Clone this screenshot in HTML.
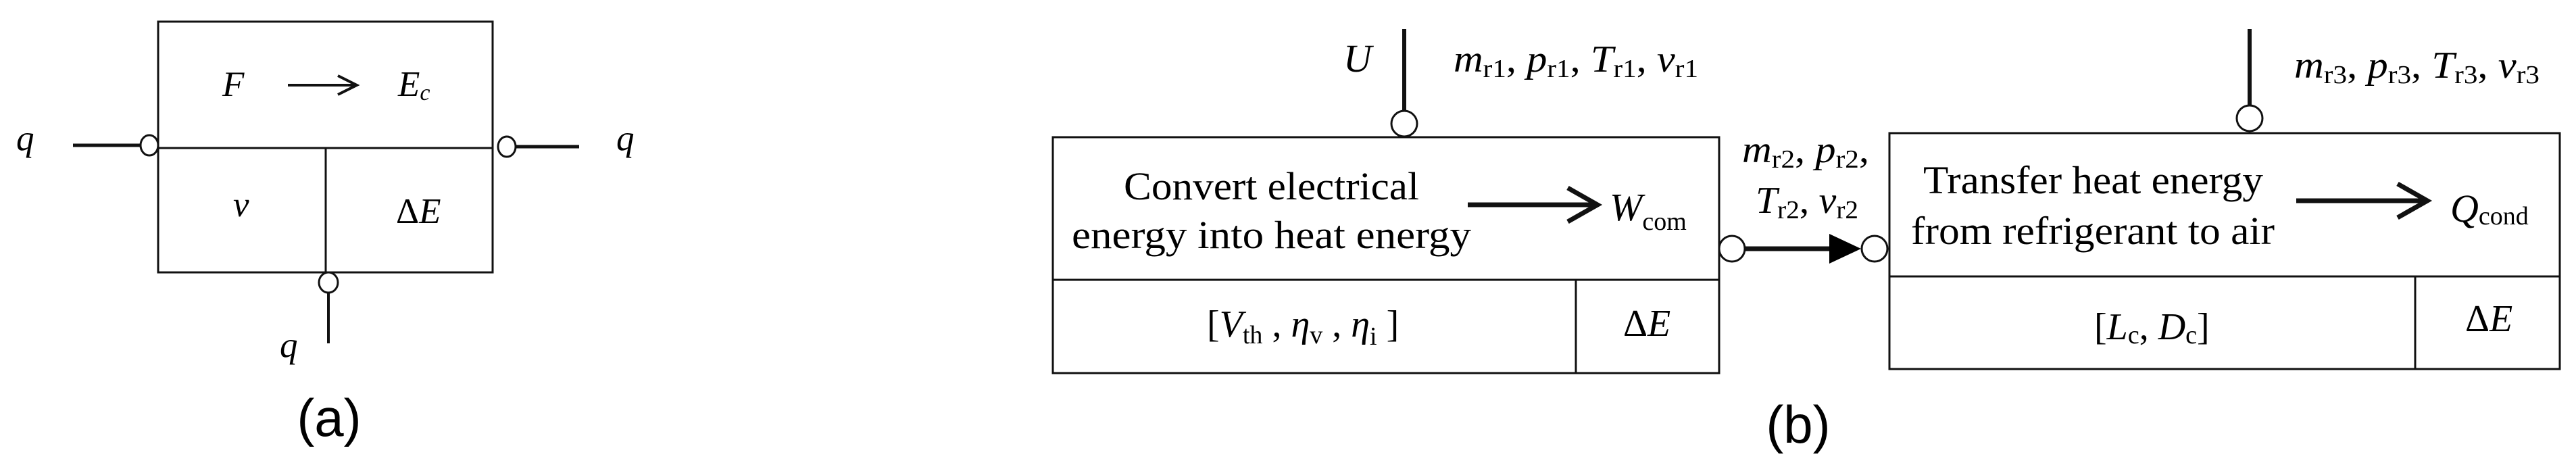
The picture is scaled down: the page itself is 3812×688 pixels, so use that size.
<!DOCTYPE html>
<html><head><meta charset="utf-8"><style>
html,body{margin:0;padding:0;background:#fff;}
svg{display:block;}
text{font-family:"Liberation Serif",serif;fill:#000;}
.i{font-style:italic;}
</style></head><body>
<svg width="3812" height="688" viewBox="0 0 3812 688" xmlns="http://www.w3.org/2000/svg">
<g fill="none" stroke="#111" stroke-width="3">
<rect x="234" y="32" width="495" height="371"/>
<line x1="234" y1="219" x2="729" y2="219"/>
<line x1="482" y1="219" x2="482" y2="403"/>
<line x1="108" y1="215" x2="207" y2="215" stroke-width="5"/>
<ellipse cx="221" cy="215" rx="13" ry="15" fill="#fff"/>
<line x1="763" y1="217" x2="857" y2="217" stroke-width="5"/>
<ellipse cx="750" cy="217" rx="13" ry="15" fill="#fff"/>
<line x1="486" y1="432" x2="486" y2="508" stroke-width="4"/>
<ellipse cx="486" cy="418" rx="14" ry="15" fill="#fff"/>
<line x1="426" y1="126" x2="527" y2="126" stroke-width="4"/>
<polyline points="500,112 528,126 500,140" stroke-width="4"/>
<rect x="1558" y="203" width="986" height="349"/>
<line x1="1558" y1="414" x2="2544" y2="414"/>
<line x1="2332" y1="414" x2="2332" y2="552"/>
<line x1="2078" y1="43" x2="2078" y2="164" stroke-width="6"/>
<circle cx="2078" cy="183" r="19" fill="#fff"/>
<line x1="2172" y1="303" x2="2362" y2="303" stroke-width="7"/>
<polyline points="2320,278 2364,303 2320,328" stroke-width="7"/>
<line x1="2580" y1="368" x2="2712" y2="368" stroke-width="7"/>
<polygon points="2707,346 2754,368 2707,390" fill="#000" stroke="none"/>
<circle cx="2563" cy="368" r="19" fill="#fff"/>
<circle cx="2774" cy="368" r="19" fill="#fff"/>
<rect x="2796" y="197" width="992" height="349"/>
<line x1="2796" y1="409" x2="3788" y2="409"/>
<line x1="3574" y1="409" x2="3574" y2="546"/>
<line x1="3329" y1="43" x2="3329" y2="156" stroke-width="6"/>
<circle cx="3329" cy="175" r="19" fill="#fff"/>
<line x1="3398" y1="297" x2="3590" y2="297" stroke-width="7"/>
<polyline points="3548,272 3592,297 3548,322" stroke-width="7"/>
</g>
<text x="329" y="142" font-size="53" class="i">F</text>
<text x="589" y="142" font-size="53" class="i">E<tspan font-size="34" dy="6">c</tspan></text>
<text x="345" y="320" font-size="53" class="i">v</text>
<text x="586" y="330" font-size="53">Δ<tspan class="i">E</tspan></text>
<text x="24" y="222" font-size="53" class="i">q</text>
<text x="912" y="222" font-size="53" class="i">q</text>
<text x="414" y="528" font-size="53" class="i">q</text>
<text x="487" y="645" font-size="78" text-anchor="middle" style="font-family:'Liberation Sans',sans-serif">(a)</text>
<text x="1988" y="106" font-size="58" class="i">U</text>
<text x="2151" y="106" font-size="56" textLength="362" lengthAdjust="spacingAndGlyphs"><tspan class="i">m</tspan><tspan font-size="38" dy="8">r1</tspan><tspan dy="-8">, </tspan><tspan class="i">p</tspan><tspan font-size="38" dy="8">r1</tspan><tspan dy="-8">, </tspan><tspan class="i">T</tspan><tspan font-size="38" dy="8">r1</tspan><tspan dy="-8">, </tspan><tspan class="i">v</tspan><tspan font-size="38" dy="8">r1</tspan></text>
<text x="1663" y="295" font-size="58" textLength="437" lengthAdjust="spacingAndGlyphs">Convert electrical</text>
<text x="1586" y="367" font-size="58" textLength="591" lengthAdjust="spacingAndGlyphs">energy into  heat energy</text>
<text x="2382" y="326" font-size="58" class="i">W<tspan font-size="38" dy="14" font-style="normal">com</tspan></text>
<text x="1786" y="498" font-size="56">[<tspan class="i">V</tspan><tspan font-size="38" dy="10">th</tspan><tspan dy="-10"> , </tspan><tspan class="i">η</tspan><tspan font-size="38" dy="10">v</tspan><tspan dy="-10"> , </tspan><tspan class="i">η</tspan><tspan font-size="38" dy="12">i</tspan><tspan dy="-12"> ]</tspan></text>
<text x="2402" y="497" font-size="56">Δ<tspan class="i">E</tspan></text>
<text x="2578" y="240" font-size="56" textLength="188" lengthAdjust="spacingAndGlyphs"><tspan class="i">m</tspan><tspan font-size="38" dy="8">r2</tspan><tspan dy="-8">, </tspan><tspan class="i">p</tspan><tspan font-size="38" dy="8">r2</tspan><tspan dy="-8">,</tspan></text>
<text x="2598" y="315" font-size="56" textLength="152" lengthAdjust="spacingAndGlyphs"><tspan class="i">T</tspan><tspan font-size="38" dy="8">r2</tspan><tspan dy="-8">, </tspan><tspan class="i">v</tspan><tspan font-size="38" dy="8">r2</tspan></text>
<text x="2661" y="655" font-size="78" text-anchor="middle" style="font-family:'Liberation Sans',sans-serif">(b)</text>
<text x="3395" y="115" font-size="56" textLength="363" lengthAdjust="spacingAndGlyphs"><tspan class="i">m</tspan><tspan font-size="38" dy="8">r3</tspan><tspan dy="-8">, </tspan><tspan class="i">p</tspan><tspan font-size="38" dy="8">r3</tspan><tspan dy="-8">, </tspan><tspan class="i">T</tspan><tspan font-size="38" dy="8">r3</tspan><tspan dy="-8">, </tspan><tspan class="i">v</tspan><tspan font-size="38" dy="8">r3</tspan></text>
<text x="2846" y="286" font-size="58" textLength="503" lengthAdjust="spacingAndGlyphs">Transfer heat energy</text>
<text x="2828" y="361" font-size="58" textLength="538" lengthAdjust="spacingAndGlyphs">from refrigerant to air</text>
<text x="3626" y="328" font-size="58" class="i">Q<tspan font-size="38" dy="4" font-style="normal">cond</tspan></text>
<text x="3099" y="502" font-size="56">[<tspan class="i">L</tspan><tspan font-size="38" dy="6">c</tspan><tspan dy="-6">, </tspan><tspan class="i">D</tspan><tspan font-size="38" dy="6">c</tspan><tspan dy="-6">]</tspan></text>
<text x="3648" y="490" font-size="56">Δ<tspan class="i">E</tspan></text>
</svg>
</body></html>
